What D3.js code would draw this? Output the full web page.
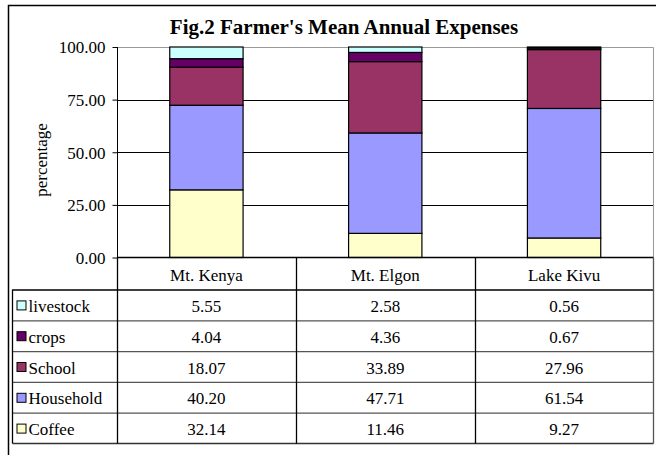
<!DOCTYPE html>
<html lang="en">
<head>
<meta charset="utf-8">
<title>Fig.2 Farmer's Mean Annual Expenses</title>
<script src="https://d3js.org/d3.v7.min.js"></script>
<style>
  body { margin: 0; background: #fff; }
  svg text { font-family: "Liberation Serif", "DejaVu Serif", serif; fill: #000; }
</style>
</head>
<body>
<script>
// data
var regions = ["Mt. Kenya", "Mt. Elgon", "Lake Kivu"];
var seriesNames = ["Coffee", "Household", "School", "crops", "livestock"];
var coffee    = [32.14, 11.46, 9.27];
var household = [40.20, 47.71, 61.54];
var school    = [18.07, 33.89, 27.96];
var crops     = [4.04, 4.36, 0.67];
var livestock = [5.55, 2.58, 0.56];
var yTicks = [0, 25, 50, 75, 100];
var colors = ["#ffffcc", "#9999ff", "#993366", "#660066", "#ccffff"];

var w = 656, h = 455;
var plotLeft = 117, plotRight = 653.5, plotTop = 47, plotBottom = 257.5;
var rowH = 30.8;
var fs = "17px";
var serif = "'Liberation Serif', serif";

var rows = regions.map(function(r, i) {
  return { region: r, Coffee: coffee[i], Household: household[i], School: school[i], crops: crops[i], livestock: livestock[i] };
});

var x = d3.scaleBand().domain(regions).range([plotLeft, plotRight]).paddingInner(0.59).paddingOuter(0.295);
var band = d3.scaleBand().domain(regions).range([plotLeft, plotRight]);
var y = d3.scaleLinear().domain([0, 100]).range([plotBottom, plotTop]);
var color = d3.scaleOrdinal().domain(seriesNames).range(colors);

var svg = d3.select("body").append("svg").attr("width", w).attr("height", h)
  .attr("font-family", serif);
svg.append("rect").attr("width", w).attr("height", h).attr("fill", "#fff");

// outer frame (left and top visible)
svg.append("path").attr("d", "M8.5,455 V5.5 H656").attr("fill", "none").attr("stroke", "#000").attr("stroke-width", 1.5);

// title
svg.append("text").attr("x", 344).attr("y", 34).attr("text-anchor", "middle")
  .style("font-size", "21px").style("font-weight", "bold")
  .text("Fig.2 Farmer's Mean Annual Expenses");

// gridlines
svg.append("g").selectAll("line").data(yTicks.slice(1, 4)).join("line")
  .attr("x1", plotLeft).attr("x2", plotRight)
  .attr("y1", d => Math.round(y(d)) + 0.5).attr("y2", d => Math.round(y(d)) + 0.5)
  .attr("stroke", "#000");

// plot frame (top and right, grey)
svg.append("path").attr("d", "M" + plotLeft + "," + (plotTop + 0.5) + " H" + plotRight + " V" + plotBottom)
  .attr("fill", "none").attr("stroke", "#999");

// stacked bars
var stacked = d3.stack().keys(seriesNames)(rows);
svg.append("g").selectAll("g").data(stacked).join("g")
  .attr("fill", d => color(d.key))
  .selectAll("rect").data(d => d).join("rect")
  .attr("x", d => x(d.data.region))
  .attr("width", x.bandwidth())
  .attr("y", d => y(d[1]))
  .attr("height", d => y(d[0]) - y(d[1]))
  .attr("stroke", "#000").attr("stroke-width", 1.2);

// y axis
var yAxis = d3.axisLeft(y).tickValues(yTicks).tickSize(5).tickFormat(d3.format(".2f"));
var ga = svg.append("g").attr("transform", "translate(" + (plotLeft + 0.5) + ",0)").call(yAxis)
  .attr("font-family", serif).attr("font-size", fs);
ga.select(".domain").remove();
ga.append("line").attr("y1", plotTop).attr("y2", plotBottom).attr("stroke", "#000");
ga.selectAll(".tick line").attr("stroke", "#000");
ga.selectAll(".tick text").attr("x", -12).attr("dy", "0.35em").attr("fill", "#000");

svg.append("text").attr("transform", "translate(47,160) rotate(-90)")
  .attr("text-anchor", "middle").style("font-size", fs).text("percentage");

// data table
var tb = svg.append("g");
var tableTop = plotBottom;
var headerH = 32;
var legendLeft = 12.5;
var tableBottom = tableTop + headerH + rowH * 5;

// header row
tb.append("line").attr("x1", plotLeft).attr("x2", plotRight).attr("y1", tableTop).attr("y2", tableTop).attr("stroke", "#000").attr("stroke-width", 1.5);
tb.selectAll("text.head").data(regions).join("text").attr("class", "head")
  .attr("x", d => band(d) + band.bandwidth() / 2).attr("y", tableTop + 23.5)
  .attr("text-anchor", "middle").style("font-size", fs).text(d => d);

// row order in table: top of stack first
var tableSeries = seriesNames.slice().reverse();
var seriesData = { Coffee: coffee, Household: household, School: school, crops: crops, livestock: livestock };

tableSeries.forEach(function(s, i) {
  var ry = tableTop + headerH + i * rowH;
  tb.append("line").attr("x1", legendLeft).attr("x2", plotRight).attr("y1", ry + 0.5).attr("y2", ry + 0.5)
    .attr("stroke", i === 0 ? "#000" : "#555").attr("stroke-width", i === 0 ? 1.5 : 1.3);
  tb.append("rect").attr("x", 17).attr("y", ry + rowH / 2 - 4).attr("width", 9).attr("height", 9)
    .attr("fill", color(s)).attr("stroke", "#000");
  tb.append("text").attr("x", 28.5).attr("y", ry + rowH / 2 + 7).style("font-size", fs).text(s);
  tb.selectAll("text.v" + i).data(seriesData[s]).join("text").attr("class", "v" + i)
    .attr("x", (d, j) => band(regions[j]) + band.bandwidth() / 2).attr("y", ry + rowH / 2 + 7)
    .attr("text-anchor", "middle").style("font-size", fs).text(d => d.toFixed(2));
});

tb.append("line").attr("x1", legendLeft).attr("x2", plotRight).attr("y1", tableBottom).attr("y2", tableBottom).attr("stroke", "#333").attr("stroke-width", 1.3);
// vertical lines
tb.append("line").attr("x1", legendLeft).attr("x2", legendLeft).attr("y1", tableTop + headerH).attr("y2", tableBottom).attr("stroke", "#000").attr("stroke-width", 1.3);
regions.forEach(function(r) {
  var bx = Math.round(band(r)) + 0.5;
  tb.append("line").attr("x1", bx).attr("x2", bx).attr("y1", tableTop).attr("y2", tableBottom).attr("stroke", "#000").attr("stroke-width", 1.3);
});
tb.append("line").attr("x1", plotRight).attr("x2", plotRight).attr("y1", tableTop).attr("y2", tableBottom).attr("stroke", "#555").attr("stroke-width", 1.3);
</script>
</body>
</html>
